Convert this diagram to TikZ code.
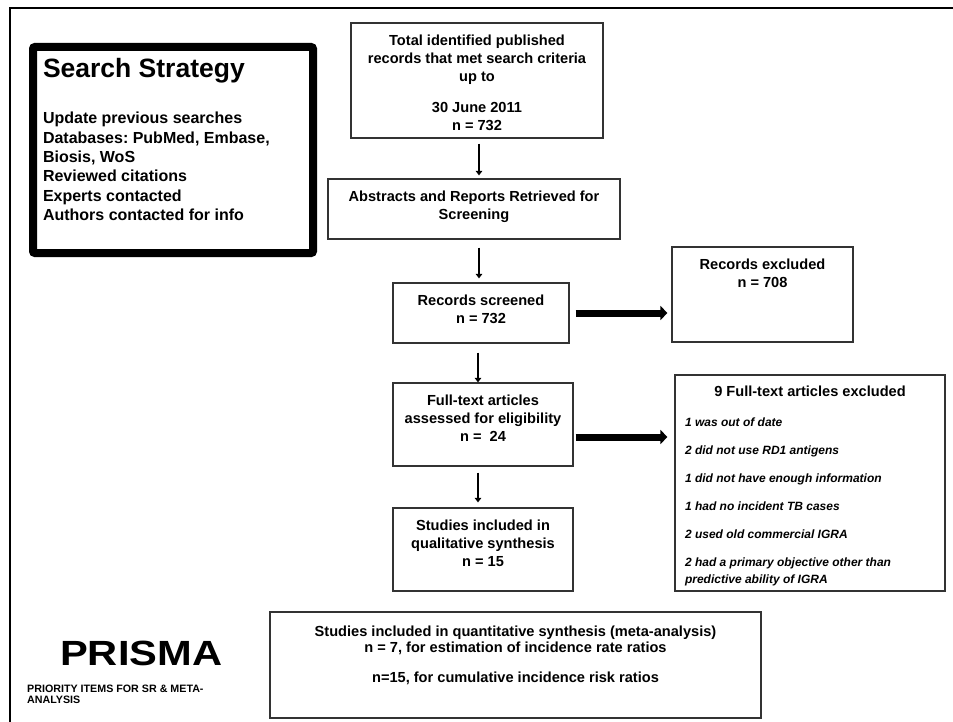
\documentclass[tikz,border=0pt]{standalone}
\usepackage{fontspec}
\usepackage{graphicx}
\setmainfont{Liberation Sans}
\usetikzlibrary{arrows.meta}
\frenchspacing
% width, height, top pad, content
\newcommand\bxt[4]{\parbox[c][#2][t]{#1}{\fontsize{14.6}{17.7}\selectfont\bfseries\lineskiplimit=-100pt\centering\vspace*{#3}\strut #4\par}}
\tikzset{
  box/.style={draw=black!80, line width=1.2pt, inner sep=0pt},
  thinarr/.style={line width=2.6pt, -{Triangle[width=6.5pt,length=4.5pt]}},
  thickarr/.style={line width=7pt, -{Triangle[width=14pt,length=7pt]}}
}
\begin{document}
\begin{tikzpicture}[x=1pt,y=-1pt]
\useasboundingbox (0,0) rectangle (953,722);
% outer frame
\draw[line width=2.8pt] (10,730) -- (10,8) -- (960,8);

% search strategy
\node[draw=black, line width=8pt, rounded corners=2pt, inner sep=0pt] (search) at (173,150)
 {\parbox[c][206pt][t]{280pt}{\frenchspacing\lineskiplimit=-100pt\raggedright\leftskip=10pt\bfseries
  \fontsize{26.5}{30}\selectfont\vspace*{10pt}\strut Search Strategy\par
  \fontsize{16}{19.33}\selectfont\vspace{26.67pt}Update previous searches\\Databases: PubMed, Embase,\\Biosis, WoS\\Reviewed citations\\Experts contacted\\Authors contacted for info\par}};

% flow boxes
\node[box] (box1) at (477,80.5) {\bxt{252pt}{115pt}{10.6pt}{Total identified published\\records that met search criteria\\up to\\[13.4pt]30 June 2011\\n = 732}};
\node[box] (box2) at (474,209) {\bxt{292pt}{60pt}{10.6pt}{Abstracts and Reports Retrieved for\\Screening}};
\node[box] (box3) at (481,313) {\bxt{176pt}{60pt}{10.6pt}{Records screened\\n = 732}};
\node[box] (excl1) at (762.5,294.5) {\bxt{181pt}{95pt}{10.6pt}{Records excluded\\n = 708}};
\node[box] (full) at (483,424.5) {\bxt{180pt}{83pt}{10.6pt}{Full-text articles\\assessed for eligibility\\n =~~24}};
\node[box] (studies) at (483,549.5) {\bxt{180pt}{83pt}{10.6pt}{Studies included in\\qualitative synthesis\\n = 15}};
\node[box] (excl2) at (810,483)
 {\parbox[c][216pt][t]{270pt}{\fontsize{14.6}{17.7}\selectfont\bfseries\lineskiplimit=-100pt\centering\vspace*{9.6pt}\strut 9 Full-text articles excluded\par
  \raggedright\leftskip=10pt\fontsize{12}{17}\selectfont\itshape\vspace{12.5pt}1 was out of date\\[11pt]2 did not use RD1 antigens\\[11pt]1 did not have enough information\\[11pt]1 had no incident TB cases\\[11pt]2 used old commercial IGRA\\[11pt]2 had a primary objective other than\\predictive ability of IGRA\par}};
\node[box] (quant) at (515.5,665)
 {\parbox[c][106pt][t]{491pt}{\fontsize{14.6}{16}\selectfont\bfseries\lineskiplimit=-100pt\centering\vspace*{12.8pt}\strut Studies included in quantitative synthesis (meta-analysis)\\n = 7, for estimation of incidence rate ratios\\[14pt]n=15, for cumulative incidence risk ratios\par}};

% PRISMA
\node[anchor=base west, inner sep=0pt] (prisma) at (60,665) {\scalebox{1.19}[1]{\fontsize{35}{40}\selectfont\bfseries PRISMA}};
\node[anchor=base west, inner sep=0pt] (prismasub) at (27,692) {\parbox[t]{220pt}{\fontsize{10.7}{11}\selectfont\bfseries PRIORITY ITEMS FOR SR \& META-\\ANALYSIS}};

% arrows
\draw[thinarr] ([shift={(2,5)}]box1.south) -- ([shift={(5,-3)}]box2.north);
\draw[thinarr] ([shift={(5,8)}]box2.south) -- ([shift={(-2,-4)}]box3.north);
\draw[thinarr] ([shift={(-3,9)}]box3.south) -- ([shift={(-5,0)}]full.north);
\draw[thinarr] ([shift={(-5,6)}]full.south) -- ([shift={(-5,-5)}]studies.north);
\draw[thickarr] ([xshift=6pt]box3.east) -- ([xshift=-4pt]excl1.west |- box3.east);
\draw[thickarr] ([shift={(2,12.5)}]full.east) coordinate (t2s) -- ([xshift=-7pt]excl2.west |- t2s);
\end{tikzpicture}
\end{document}
